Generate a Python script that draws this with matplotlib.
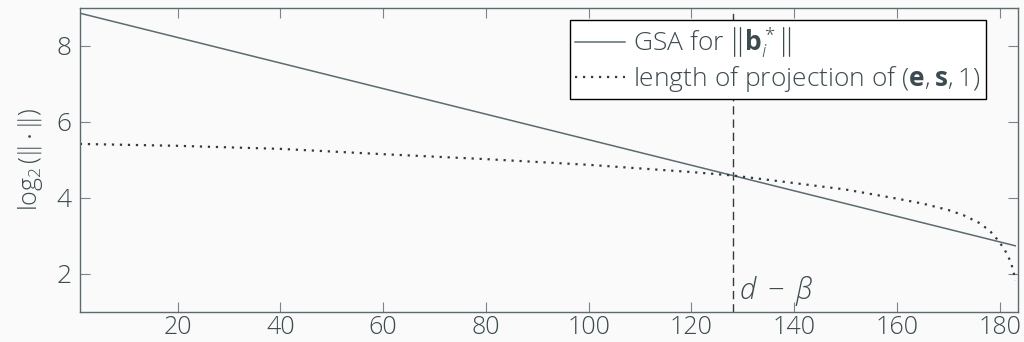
import matplotlib.pyplot as plt

# GSA straight line (two end points)
gsa_x = [1, 183]
gsa_y = [8.86, 2.74]

# dotted curve: length of projection of (e, s, 1)
proj_x = [1, 20, 40, 60, 80, 100, 120, 128, 140, 150, 160, 165, 170, 173, 176, 178, 179, 180, 181, 182, 182.6, 183]
proj_y = [5.42, 5.37, 5.29, 5.15, 5.02, 4.87, 4.68, 4.59, 4.39, 4.22, 3.98, 3.85, 3.68, 3.54, 3.34, 3.14, 2.99, 2.82, 2.62, 2.35, 2.1, 1.82]

d_minus_beta = 128

xticks = [20, 40, 60, 80, 100, 120, 140, 160, 180]
yticks = [2, 4, 6, 8]

fg = '#3b4b4f'
bg = '#fafafa'

plt.rcParams['font.family'] = ['Open Sans', 'DejaVu Sans']
plt.rcParams['font.weight'] = 'light'
plt.rcParams['mathtext.fontset'] = 'custom'
plt.rcParams['mathtext.rm'] = 'Open Sans:light'
plt.rcParams['mathtext.it'] = 'Open Sans:italic:light'
plt.rcParams['mathtext.bf'] = 'Open Sans:bold'
plt.rcParams['text.color'] = fg

fig = plt.figure(figsize=(10.24, 3.42), dpi=100, facecolor=bg)
ax = fig.add_axes([0.078, 0.088, 0.916, 0.889], facecolor=bg)

l1, = ax.plot(gsa_x, gsa_y, color='#5b6b6f', lw=1.1)
l2, = ax.plot(proj_x, proj_y, color='#2e3b3e', lw=1.6, linestyle=(0, (1, 2.6)))
ax.axvline(d_minus_beta, color='#2e3b3e', lw=1.0, linestyle=(0, (6, 3.5)), zorder=1)
ax.text(d_minus_beta + 1.3, 1.1, r'$d\;-\;\beta$', fontsize=21, color=fg, va='bottom')

ax.set_xlim(1, 183.5)
ax.set_ylim(1, 9)
ax.set_xticks(xticks)
ax.set_yticks(yticks)
ax.tick_params(direction='in', length=7, width=0.8, color='#7a8588', labelsize=19,
               labelcolor=fg, top=True, right=True, pad=6)
ax.tick_params(axis='x', labelsize=18, pad=2)
for s in ax.spines.values():
    s.set_color('#5b6b6f')
    s.set_linewidth(1.0)

ax.set_ylabel(r'$\log_2(\|\cdot\|)$', fontsize=18, color=fg, labelpad=8)

# legend on the figure so it sits above the dashed line
leg = fig.legend([l1, l2],
                 [r'GSA for $\left\|\mathbf{b}_i^*\right\|$',
                  r'length of projection of $(\mathbf{e}, \mathbf{s}, 1)$'],
                 loc='upper right', bbox_to_anchor=(0.975, 0.985), bbox_transform=ax.transAxes,
                 fontsize=19, frameon=True, fancybox=False, framealpha=1,
                 facecolor='white', edgecolor='black',
                 handlelength=1.9, handletextpad=0.3, borderpad=0.2,
                 labelspacing=0.1, borderaxespad=0.3)
leg.get_frame().set_linewidth(1.0)

fig.savefig('out.png', dpi=100, facecolor=bg)
